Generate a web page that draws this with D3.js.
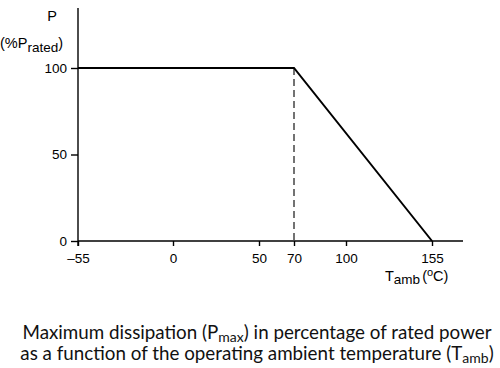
<!DOCTYPE html>
<head>
  <meta charset="utf-8">
  <title>Derating curve</title>
  <script src="https://d3js.org/d3.v7.min.js"></script>
  <style>
  body { margin: 0; background: #fff; }
  .axis text { font-family: "Liberation Sans", Arial, sans-serif; font-size: 13.5px; fill: #000; }
  .lbl { font-family: "Liberation Sans", Arial, sans-serif; font-size: 14.5px; fill: #000; }
  .caption { font-family: Lato, "Open Sans", sans-serif; font-size: 18.8px; fill: #111; }
  </style>
</head>
<body>
  <script>
    // Chart data
    var tempTicks = [-55, 0, 50, 70, 100, 155];
    var powerTicks = [0, 50, 100];
    var curveTemp = [-55, 70, 155];
    var curvePower = [100, 100, 0];
    var kneeTemp = 70;

    var svg = d3.select("body").append("svg")
      .attr("width", 500)
      .attr("height", 368);

    // Temperature scale (axis in source is drawn unevenly, so piecewise)
    var x = d3.scaleLinear()
      .domain(tempTicks)
      .range([78, 173, 259, 294, 346, 432]);

    var y = d3.scaleLinear()
      .domain([0, 100])
      .range([241, 68]);

    // Axis lines
    svg.append("line")
      .attr("x1", x(-55)).attr("x2", 463)
      .attr("y1", y(0)).attr("y2", y(0))
      .attr("stroke", "#000").attr("stroke-width", 1.4);
    svg.append("line")
      .attr("x1", x(-55)).attr("x2", x(-55))
      .attr("y1", 8).attr("y2", y(0) + 5)
      .attr("stroke", "#000").attr("stroke-width", 1.4);

    // x axis ticks
    var xAxis = d3.axisBottom(x)
      .tickValues(tempTicks)
      .tickSize(5)
      .tickPadding(7)
      .tickFormat(function(d) { return d < 0 ? "\u2013" + Math.abs(d) : d; });
    var gx = svg.append("g")
      .attr("class", "axis")
      .attr("transform", "translate(0," + y(0) + ")")
      .call(xAxis);
    gx.select(".domain").remove();
    gx.selectAll("line").attr("stroke", "#000").attr("stroke-width", 1.4);

    // y axis ticks
    var yAxis = d3.axisLeft(y)
      .tickValues(powerTicks)
      .tickSize(7)
      .tickPadding(4);
    var gy = svg.append("g")
      .attr("class", "axis")
      .attr("transform", "translate(" + x(-55) + ",0)")
      .call(yAxis);
    gy.select(".domain").remove();
    gy.selectAll("line").attr("stroke", "#000").attr("stroke-width", 1.4);

    // Dashed line at knee
    svg.append("line")
      .attr("x1", x(kneeTemp)).attr("x2", x(kneeTemp))
      .attr("y1", y(100)).attr("y2", y(0))
      .attr("stroke", "#444")
      .attr("stroke-width", 1.5)
      .attr("stroke-dasharray", "7,4");

    // Derating curve
    var pts = curveTemp.map(function(t, i) { return [t, curvePower[i]]; });
    svg.append("path")
      .datum(pts)
      .attr("fill", "none")
      .attr("stroke", "#000")
      .attr("stroke-width", 2)
      .attr("d", d3.line()
        .x(function(d) { return x(d[0]); })
        .y(function(d) { return y(d[1]); }));

    // y label
    svg.append("text")
      .attr("class", "lbl")
      .attr("x", 52).attr("y", 21)
      .attr("text-anchor", "middle")
      .text("P");
    var yl = svg.append("text")
      .attr("class", "lbl")
      .attr("x", 0).attr("y", 48);
    yl.append("tspan").text("(%P");
    yl.append("tspan").attr("dy", 4).attr("font-size", "13.5px").text("rated");
    yl.append("tspan").attr("dy", -4).text(")");

    // x label
    var xl = svg.append("text")
      .attr("class", "lbl")
      .attr("x", 385).attr("y", 281);
    xl.append("tspan").text("T");
    xl.append("tspan").attr("dy", 3).attr("font-size", "13.5px").text("amb");
    xl.append("tspan").attr("dy", -3).attr("dx", 2).text("(");
    xl.append("tspan").attr("dy", -5).attr("font-size", "11px").text("o");
    xl.append("tspan").attr("dy", 5).text("C)");

    // Caption
    var c1 = svg.append("text")
      .attr("class", "caption")
      .attr("x", 257).attr("y", 339)
      .attr("text-anchor", "middle");
    c1.append("tspan").text("Maximum dissipation (P");
    c1.append("tspan").attr("dy", 2.5).attr("font-size", "14px").text("max");
    c1.append("tspan").attr("dy", -2.5).text(") in percentage of rated power");

    var c2 = svg.append("text")
      .attr("class", "caption")
      .attr("x", 257).attr("y", 360)
      .attr("text-anchor", "middle");
    c2.append("tspan").text("as a function of the operating ambient temperature (T");
    c2.append("tspan").attr("dy", 3).attr("font-size", "14px").text("amb");
    c2.append("tspan").attr("dy", -3).text(")");
  </script>
</body>
</html>
